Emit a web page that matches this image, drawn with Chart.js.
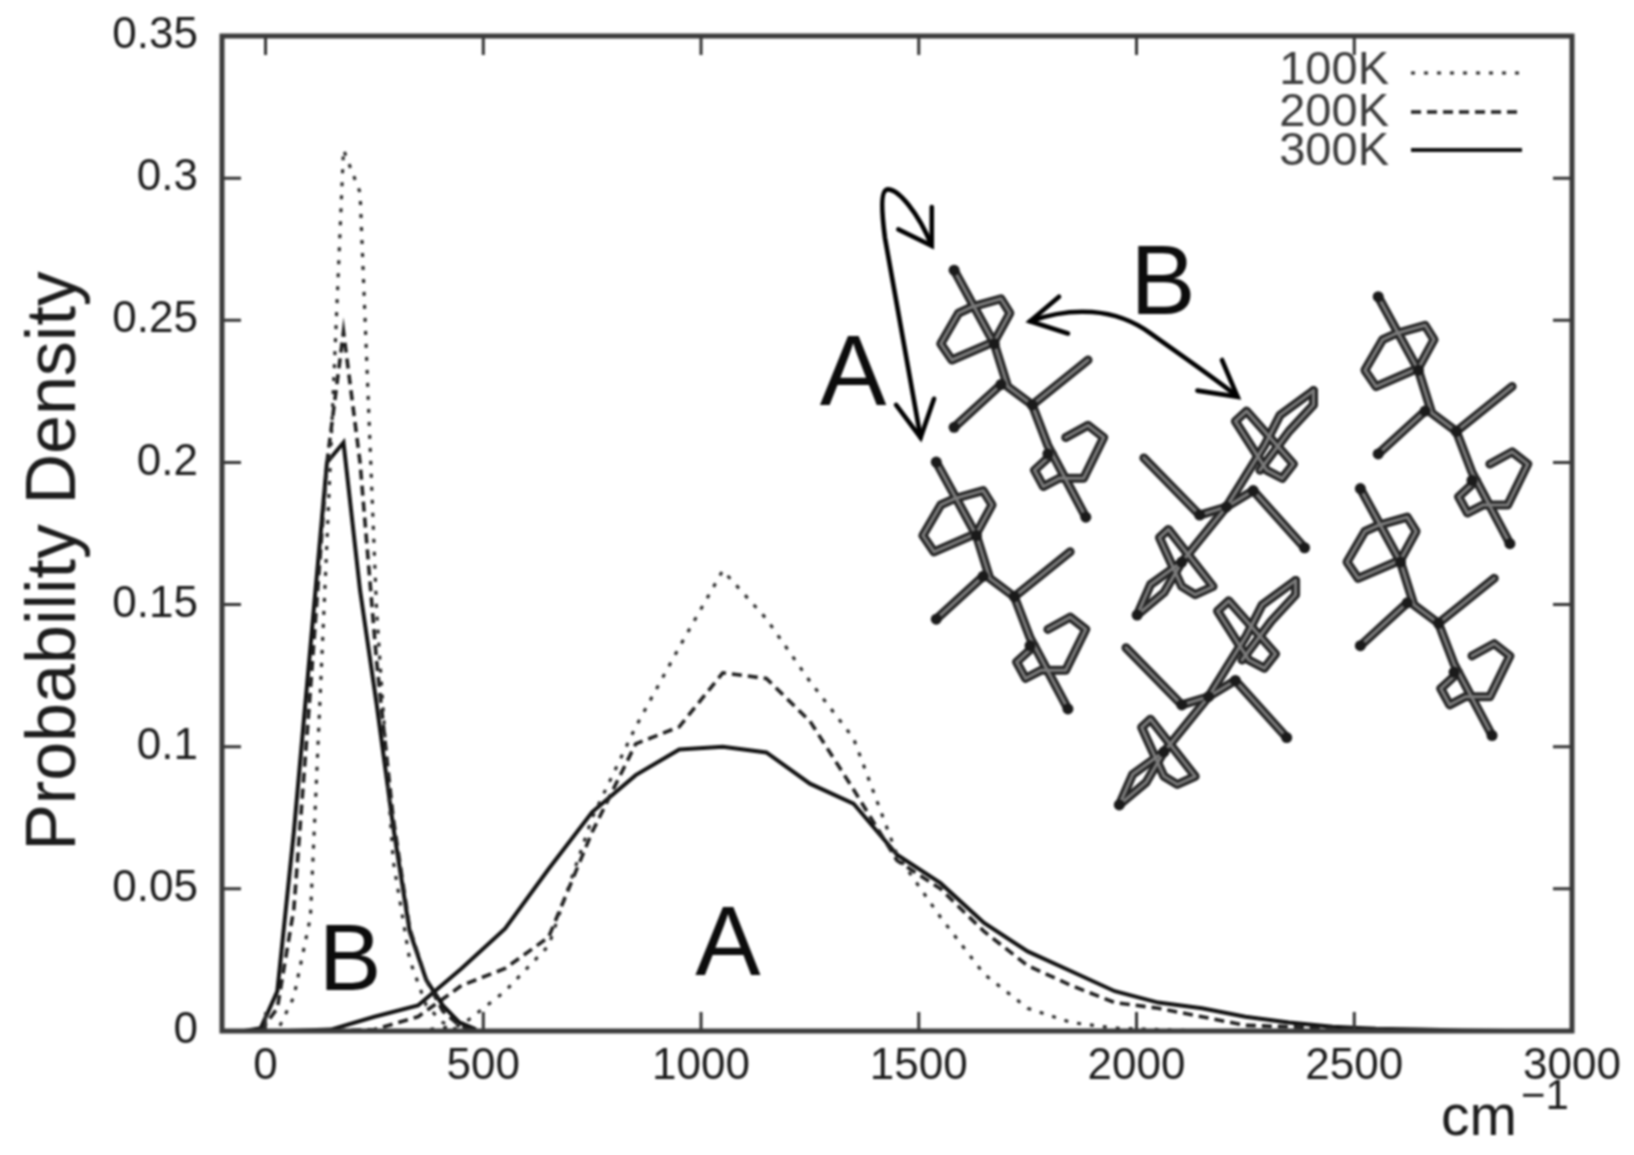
<!DOCTYPE html>
<html>
<head>
<meta charset="utf-8">
<title>Probability Density</title>
<script src="https://cdn.jsdelivr.net/npm/chart.js@4"></script>
<style>
  html, body { margin: 0; background: #fff; }
  canvas { display: block; filter: blur(0.8px); }
</style>
</head>
<body>
<canvas id="grafico" width="1634" height="1155"></canvas>
<script>
// Tick values of both axes
const xTicks = [0, 500, 1000, 1500, 2000, 2500, 3000];
const yTicks = [0, 0.05, 0.1, 0.15, 0.2, 0.25, 0.3, 0.35];
const yTickLabels = ['0', '0.05', '0.1', '0.15', '0.2', '0.25', '0.3', '0.35'];

// Peak B: the three temperatures share this x grid (cm-1)
const peakBx = [-49, -11, 27, 65, 103, 141, 179, 217, 255, 293, 331, 369, 407, 445, 483];
const peakB100 = [0, 0, 0, 0.012, 0.04, 0.172, 0.31, 0.295, 0.148, 0.06, 0.025, 0.009, 0.003, 0, 0];
const peakB200 = [0, 0, 0.008, 0.043, 0.12, 0.2, 0.246, 0.2, 0.13, 0.075, 0.036, 0.018, 0.007, 0.002, 0];
const peakB300 = [0, 0.001, 0.014, 0.07, 0.135, 0.2, 0.207, 0.155, 0.115, 0.072, 0.035, 0.018, 0.009, 0.003, 0.0006];

// Peak A: coarser grid
const peakAx = [50, 150, 250, 350, 450, 550, 650, 750, 850, 950, 1050, 1150, 1250, 1350, 1450,
                1550, 1650, 1750, 1850, 1950, 2050, 2150, 2250, 2350, 2450, 2550, 2650, 2750, 2850];
const peakA100 = [0, 0, 0, 0, 0.002, 0.014, 0.03, 0.075, 0.107, 0.135, 0.162, 0.145, 0.123, 0.103, 0.062,
                  0.04, 0.02, 0.008, 0.003, 0.001, 0.0005, 0, 0, 0, 0, 0, 0, 0, 0];
const peakA200 = [0, 0, 0.0005, 0.005, 0.016, 0.022, 0.033, 0.07, 0.101, 0.107, 0.126, 0.124, 0.109, 0.085, 0.06,
                  0.05, 0.035, 0.023, 0.016, 0.01, 0.008, 0.005, 0.002, 0.0015, 0.001, 0.0005, 0, 0, 0];
const peakA300 = [0, 0.0005, 0.005, 0.009, 0.022, 0.036, 0.057, 0.077, 0.09, 0.099, 0.1, 0.098, 0.087, 0.08, 0.062,
                  0.052, 0.038, 0.028, 0.021, 0.014, 0.01, 0.008, 0.005, 0.003, 0.0015, 0.0008, 0.0005, 0.0002, 0];

const seriesNames = ['100K', '200K', '300K'];

// Line style of each temperature
const ESTILOS = {
    '100K': { color: '#2a2a2a', width: 3.2, dash: [4, 9] },
    '200K': { color: '#1e1e1e', width: 3.6, dash: [10, 6] },
    '300K': { color: '#111', width: 4, dash: [] }
};

const FUENTE = '"Liberation Sans", Arial, sans-serif';

function serie(name, xs, ys) {
    const e = ESTILOS[name];
    return {
        label: name,
        data: xs.map((x, i) => ({ x: x, y: ys[i] })),
        borderColor: e.color,
        borderWidth: e.width,
        borderDash: e.dash,
        pointRadius: 0,
        tension: 0,
        fill: false
    };
}

// The inset was measured in a crop, this converts to canvas pixels
const px = x => 780 + x / 2.24;
const py = y => 160 + y / 2.45;

function trazo(ctx, puntos, dx, dy) {
    ctx.beginPath();
    puntos.forEach((p, i) => {
        if (i === 0) ctx.moveTo(px(p[0] + dx), py(p[1] + dy));
        else ctx.lineTo(px(p[0] + dx), py(p[1] + dy));
    });
    ctx.stroke();
}

// Molecule drawings of the inset: a dark stroke with a grey core and dark joints
const MOLECULA_1 = {
    trazos: [
        [[390, 270], [430, 350], [480, 450], [510, 555], [565, 600], [600, 700], [685, 875]],
        [[495, 550], [390, 655]],
        [[565, 600], [690, 490]],
        [[430, 360], [495, 340], [515, 375], [480, 445], [385, 490], [360, 450], [400, 375], [430, 360]],
        [[610, 720], [570, 760], [590, 800], [625, 780], [680, 780], [725, 680], [690, 650], [640, 680]]
    ],
    nudos: [[390, 270], [685, 875], [390, 655], [495, 550], [565, 600], [480, 450], [600, 720]]
};
const MOLECULA_2 = {
    trazos: [
        [[1195, 565], [1120, 625], [1085, 700], [1000, 850], [900, 985], [830, 1040], [800, 1115]],
        [[1195, 565], [1195, 600], [1140, 665], [1075, 760]],
        [[900, 985], [860, 1060], [800, 1115]],
        [[1000, 850], [940, 870], [815, 730]],
        [[1000, 850], [1060, 810], [1175, 950]],
        [[1020, 640], [1045, 615], [1150, 745], [1125, 780], [1090, 760], [1020, 640]],
        [[850, 925], [870, 905], [970, 1045], [930, 1065], [900, 1045], [850, 925]]
    ],
    nudos: [[800, 1115], [1175, 950], [940, 870], [1000, 850], [900, 985], [1060, 810]]
};

function dibujarMolecula(ctx, forma, dx, dy) {
    ctx.lineCap = 'round';
    ctx.lineJoin = 'round';
    ctx.strokeStyle = '#242424';
    ctx.lineWidth = 9;
    forma.trazos.forEach(t => trazo(ctx, t, dx, dy));
    ctx.strokeStyle = '#7c7c7c';
    ctx.lineWidth = 3;
    forma.trazos.forEach(t => trazo(ctx, t, dx, dy));
    ctx.fillStyle = '#1a1a1a';
    forma.nudos.forEach(n => {
        ctx.beginPath();
        ctx.arc(px(n[0] + dx), py(n[1] + dy), 5.5, 0, Math.PI * 2);
        ctx.fill();
    });
}

function dibujarFlechas(ctx) {
    ctx.strokeStyle = '#000';
    ctx.lineWidth = 4.6;
    ctx.lineCap = 'round';
    ctx.lineJoin = 'miter';

    // Arrow A
    ctx.beginPath();
    ctx.moveTo(px(340), py(210));
    ctx.bezierCurveTo(px(310), py(130), px(265), py(70), px(240), py(72));
    ctx.bezierCurveTo(px(225), py(75), px(228), py(130), px(235), py(190));
    ctx.lineTo(px(315), py(680));
    ctx.stroke();
    trazo(ctx, [[265, 170], [340, 210], [340, 115]], 0, 0);
    trazo(ctx, [[260, 600], [315, 680], [345, 585]], 0, 0);

    // Arrow B
    ctx.beginPath();
    ctx.moveTo(px(560), py(395));
    ctx.bezierCurveTo(px(650), py(360), px(750), py(360), px(830), py(425));
    ctx.bezierCurveTo(px(900), py(480), px(980), py(540), px(1025), py(580));
    ctx.stroke();
    trazo(ctx, [[625, 335], [560, 395], [645, 425]], 0, 0);
    trazo(ctx, [[990, 490], [1025, 580], [935, 565]], 0, 0);
}

function texto(ctx, s, x, y, size, align, color) {
    ctx.font = size + 'px ' + FUENTE;
    ctx.textAlign = align;
    ctx.textBaseline = 'alphabetic';
    ctx.fillStyle = color;
    ctx.fillText(s, x, y);
}

// Frame, inward ticks, legend, labels and inset
const decoracion = {
    id: 'decoracion',
    afterDatasetsDraw(chart) {
        const { ctx, chartArea: a, scales } = chart;
        ctx.save();

        ctx.strokeStyle = '#333';
        ctx.lineWidth = 3;
        ctx.lineCap = 'butt';
        ctx.setLineDash([]);
        ctx.beginPath();
        xTicks.forEach(v => {
            const x = scales.x.getPixelForValue(v);
            ctx.moveTo(x, a.bottom); ctx.lineTo(x, a.bottom - 19);
            ctx.moveTo(x, a.top); ctx.lineTo(x, a.top + 19);
        });
        yTicks.forEach(v => {
            const y = scales.y.getPixelForValue(v);
            ctx.moveTo(a.left, y); ctx.lineTo(a.left + 19, y);
            ctx.moveTo(a.right, y); ctx.lineTo(a.right - 19, y);
        });
        ctx.stroke();

        ctx.strokeStyle = '#3a3a3a';
        ctx.lineWidth = 5;
        ctx.strokeRect(a.left, a.top, a.right - a.left, a.bottom - a.top);

        // Legend: text first, sample line on the right
        const filasTexto = [84, 126, 165];
        const filasLinea = [73, 112, 150];
        seriesNames.forEach((name, i) => {
            const e = ESTILOS[name];
            texto(ctx, name, 1389, filasTexto[i], 47, 'right', '#3c3c3c');
            ctx.strokeStyle = e.color;
            ctx.lineWidth = e.width;
            ctx.setLineDash(e.dash);
            ctx.beginPath();
            ctx.moveTo(1411, filasLinea[i]);
            ctx.lineTo(1522, filasLinea[i]);
            ctx.stroke();
        });
        ctx.setLineDash([]);

        // Peak names and inset names
        texto(ctx, 'B', 350, 990, 94, 'center', '#0c0c0c');
        texto(ctx, 'A', 728, 975, 98, 'center', '#0c0c0c');
        texto(ctx, 'A', 853, 405, 100, 'center', '#0c0c0c');
        texto(ctx, 'B', 1163, 314, 98, 'center', '#0c0c0c');

        // Axis titles
        texto(ctx, 'cm', 1441, 1135, 57, 'left', '#1c1c1c');
        texto(ctx, '\u22121', 1521, 1109, 42, 'left', '#1c1c1c');
        ctx.save();
        ctx.translate(75, 561);
        ctx.rotate(-Math.PI / 2);
        texto(ctx, 'Probability Density', 0, 0, 70, 'center', '#1c1c1c');
        ctx.restore();

        // Inset
        dibujarFlechas(ctx);
        [[0, 0], [-40, 470], [950, 65], [910, 535]].forEach(d => dibujarMolecula(ctx, MOLECULA_1, d[0], d[1]));
        [[0, 0], [-40, 465]].forEach(d => dibujarMolecula(ctx, MOLECULA_2, d[0], d[1]));

        ctx.restore();
    }
};

new Chart(document.getElementById('grafico').getContext('2d'), {
    type: 'line',
    data: {
        datasets: [
            serie('100K', peakBx, peakB100),
            serie('200K', peakBx, peakB200),
            serie('300K', peakBx, peakB300),
            serie('100K', peakAx, peakA100),
            serie('200K', peakAx, peakA200),
            serie('300K', peakAx, peakA300)
        ]
    },
    options: {
        responsive: false,
        animation: false,
        devicePixelRatio: 1,
        layout: { padding: { top: 36, right: 62, left: 0, bottom: 0 } },
        plugins: { legend: { display: false }, tooltip: { enabled: false } },
        scales: {
            x: {
                type: 'linear',
                min: -100,
                max: 3000,
                grid: { display: false, drawTicks: false },
                border: { display: false },
                afterBuildTicks: s => { s.ticks = xTicks.map(v => ({ value: v })); },
                afterFit: s => { s.height = 124; s.paddingLeft = 0; s.paddingRight = 0; },
                ticks: {
                    padding: 9,
                    maxRotation: 0,
                    autoSkip: false,
                    color: '#1c1c1c',
                    font: { family: FUENTE, size: 44 },
                    callback: v => String(v)
                }
            },
            y: {
                min: 0,
                max: 0.35,
                grid: { display: false, drawTicks: false },
                border: { display: false },
                afterBuildTicks: s => { s.ticks = yTicks.map(v => ({ value: v })); },
                afterFit: s => { s.width = 222; s.paddingTop = 0; s.paddingBottom = 0; },
                ticks: {
                    padding: 24,
                    autoSkip: false,
                    color: '#1c1c1c',
                    font: { family: FUENTE, size: 44 },
                    callback: v => yTickLabels[yTicks.indexOf(v)]
                }
            }
        }
    },
    plugins: [decoracion]
});
</script>
</body>
</html>
